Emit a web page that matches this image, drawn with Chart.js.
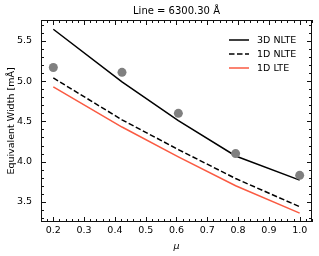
<!DOCTYPE html>
<html>
<head>
<meta charset="utf-8">
<script src="https://cdn.jsdelivr.net/npm/chart.js@4"></script>
<style>
  html, body { margin: 0; padding: 0; background: #fff; }
  #wrap { width: 319px; height: 256px; }
</style>
</head>
<body>
<div id="wrap"><canvas id="chart" width="319" height="256"></canvas></div>
<script>
// data
const mu = [0.2, 0.423, 0.606, 0.792, 1.0];
const observed = [5.17, 5.11, 4.60, 4.10, 3.83];
const nlte3d = [5.645, 4.99, 4.51, 4.07, 3.77];
const nlte1d = [5.04, 4.52, 4.15, 3.79, 3.44];
const lte1d = [4.93, 4.43, 4.06, 3.70, 3.36];
const xTicks = [0.2, 0.3, 0.4, 0.5, 0.6, 0.7, 0.8, 0.9, 1.0];
const yTicks = [3.5, 4.0, 4.5, 5.0, 5.5];
const titleText = 'Line = 6300.30 Å';
const legendLabels = ['3D NLTE', '1D NLTE', '1D LTE'];

const FONT = 'DejaVu Sans';
const RED = '#fa5a42';
const DASH = [5.5, 2.5];

function pts(ys) {
  return mu.map((m, i) => ({ x: m, y: ys[i] }));
}

// frame, inward ticks on all four sides, title and the legend
const decor = {
  id: 'decor',
  afterDraw(chart) {
    const ctx = chart.ctx;
    const a = chart.chartArea;
    const xs = chart.scales.x, ys = chart.scales.y;
    const L = Math.round(a.left), R = Math.round(a.right);
    const T = Math.round(a.top), B = Math.round(a.bottom);
    ctx.save();
    ctx.setLineDash([]);
    ctx.fillStyle = '#111';
    // frame
    ctx.fillRect(L, T, R - L, 1);
    ctx.fillRect(L, B - 1, R - L, 1);
    ctx.fillRect(L, T, 1, B - T);
    ctx.fillRect(R - 1, T, 1, B - T);

    const tickX = (v, len) => {
      const p = Math.round(xs.getPixelForValue(v));
      ctx.fillRect(p, B - len, 1, len);
      ctx.fillRect(p, T, 1, len);
    };
    const tickY = (v, len) => {
      const p = Math.round(ys.getPixelForValue(v));
      ctx.fillRect(L, p, len, 1);
      ctx.fillRect(R - len, p, len, 1);
    };
    for (let i = 0; i <= 44; i++) tickX(0.16 + i * 0.02, 3);
    xTicks.forEach(v => tickX(v, 5));
    for (let i = 0; i <= 24; i++) tickY(3.3 + i * 0.1, 3);
    yTicks.forEach(v => tickY(v, 5));

    // title
    ctx.fillStyle = '#000';
    ctx.font = '10px "' + FONT + '"';
    ctx.textAlign = 'center';
    ctx.textBaseline = 'middle';
    ctx.fillText(titleText, (a.left + a.right) / 2, 11);

    // legend
    const styles = [
      { c: '#000', d: [] },
      { c: '#000', d: DASH },
      { c: RED, d: [] }
    ];
    ctx.font = '9.5px "' + FONT + '"';
    ctx.textAlign = 'left';
    const rows = [40, 54, 68];
    legendLabels.forEach((t, i) => {
      ctx.beginPath();
      ctx.strokeStyle = styles[i].c;
      ctx.lineWidth = 1.5;
      ctx.setLineDash(styles[i].d);
      ctx.moveTo(229, rows[i]); ctx.lineTo(249, rows[i]);
      ctx.stroke();
      ctx.setLineDash([]);
      ctx.fillStyle = '#000';
      ctx.fillText(t, 257, rows[i] + 0.5);
    });
    ctx.restore();
  }
};

new Chart(document.getElementById('chart'), {
  type: 'line',
  data: {
    datasets: [
      {
        type: 'scatter',
        label: 'obs',
        data: pts(observed),
        pointRadius: 4.5,
        pointBackgroundColor: '#808080',
        pointBorderWidth: 0,
        showLine: false
      },
      {
        label: legendLabels[0],
        data: pts(nlte3d),
        borderColor: '#000',
        borderWidth: 1.5,
        pointRadius: 0,
        tension: 0
      },
      {
        label: legendLabels[1],
        data: pts(nlte1d),
        borderColor: '#000',
        borderWidth: 1.5,
        borderDash: DASH,
        pointRadius: 0,
        tension: 0
      },
      {
        label: legendLabels[2],
        data: pts(lte1d),
        borderColor: RED,
        borderWidth: 1.5,
        pointRadius: 0,
        tension: 0
      }
    ]
  },
  options: {
    responsive: false,
    animation: false,
    layout: { padding: { top: 20, right: 7, left: 0, bottom: 0 } },
    plugins: {
      legend: { display: false },
      tooltip: { enabled: false }
    },
    scales: {
      x: {
        type: 'linear',
        min: 0.16,
        max: 1.04,
        grid: { display: false, drawTicks: false },
        border: { display: false },
        afterBuildTicks: s => { s.ticks = xTicks.map(v => ({ value: v })); },
        afterFit: s => { s.height = 34; },
        ticks: {
          padding: 3,
          maxRotation: 0,
          autoSkip: false,
          color: '#000',
          font: { family: FONT, size: 9.5 },
          callback: v => v.toFixed(1)
        },
        title: {
          display: true,
          text: 'μ',
          color: '#000',
          padding: { top: 0, bottom: 4 },
          font: { family: FONT, size: 9.5, style: 'italic' }
        }
      },
      y: {
        type: 'linear',
        min: 3.25,
        max: 5.76,
        grid: { display: false, drawTicks: false },
        border: { display: false },
        afterBuildTicks: s => { s.ticks = yTicks.map(v => ({ value: v })); },
        afterFit: s => { s.width = 41; },
        ticks: {
          padding: 9,
          autoSkip: false,
          color: '#000',
          font: { family: FONT, size: 9.5 },
          callback: v => v.toFixed(1)
        },
        title: {
          display: true,
          text: 'Equivalent Width [mÅ]',
          color: '#000',
          padding: { top: 6, bottom: 0 },
          font: { family: FONT, size: 9.5 }
        }
      }
    }
  },
  plugins: [decor]
});
</script>
</body>
</html>
